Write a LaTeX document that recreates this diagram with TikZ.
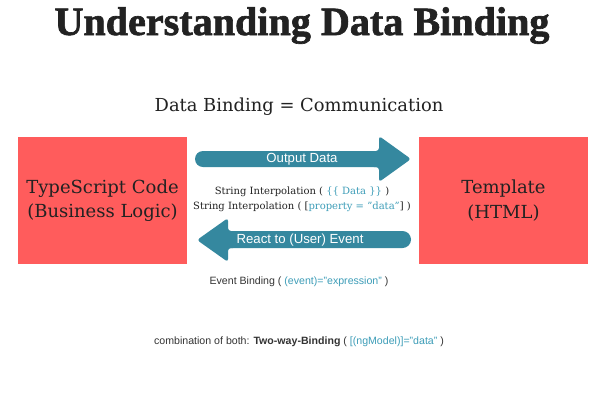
\documentclass[tikz,border=0pt]{standalone}
\usepackage{fontspec}
\setmainfont{DejaVu Serif}
\setsansfont{Liberation Sans}
\newfontfamily\titlefont[BoldFeatures={FakeBold=1.6}]{Liberation Serif}
\definecolor{boxred}{HTML}{FF5C5C}
\definecolor{arrowteal}{HTML}{35889F}
\definecolor{codeteal}{HTML}{3D9DB8}
\definecolor{ink}{HTML}{222222}
\definecolor{grayink}{HTML}{333333}
\tikzset{
  redbox/.style={fill=boxred, draw=none, minimum width=169pt, minimum height=127pt, inner sep=0pt,
    text=ink, align=center, font=\fontsize{18}{24.5}\selectfont},
  bigarrow/.style={fill=arrowteal, draw=none},
  arrowlabel/.style={text=white, font=\sffamily\fontsize{13.2}{14}\selectfont, inner sep=0pt},
  serifnote/.style={text=ink, font=\fontsize{10}{15}\selectfont, inner sep=0pt, align=center},
  sansnote/.style={text=grayink, font=\sffamily\fontsize{10.6}{12}\selectfont, inner sep=0pt},
}
\newcommand{\code}[1]{\textcolor{codeteal}{#1}}
\begin{document}
\begin{tikzpicture}[x=1pt,y=-1pt]
\useasboundingbox (0,0) rectangle (600,400);
\fill[white] (0,0) rectangle (600,400);
% title
\node[anchor=base, inner sep=0pt, text=ink] (title) at (302,35)
  {\resizebox{495pt}{!}{\titlefont\bfseries\fontsize{42}{42}\selectfont Understanding Data Binding}};
% subtitle
\node[anchor=base, inner sep=0pt, text=ink, font=\fontsize{17.9}{20}\selectfont] (subtitle) at (299,111)
  {Data Binding = Communication};
% boxes
\node[redbox] (ts) at (102.5,200.5) {TypeScript Code\\(Business Logic)};
\node[redbox] (tpl) at (503.5,200.5) {Template\\(HTML)};
% top arrow
\fill[bigarrow, rounded corners=8pt] (379,167) -- (195,167) -- (195,151) -- (379,151);
\fill[bigarrow, rounded corners=3pt] (371,151) -- (379,151) -- (379,136) -- (411,159) -- (379,182) -- (379,167) -- (371,167) -- cycle;
\node[arrowlabel] (outlbl) at (302,159) {Output Data};
% bottom arrow
\fill[bigarrow, rounded corners=8.5pt] (228,231) -- (411,231) -- (411,248) -- (228,248);
\fill[bigarrow, rounded corners=3pt] (236,231) -- (228,231) -- (228,218) -- (197,240) -- (228,262) -- (228,248) -- (236,248) -- cycle;
\node[arrowlabel] (reactlbl) at (300,240) {React to (User) Event};
% middle notes
\node[serifnote] (interp) at (302,199.5)
  {String Interpolation ( \code{\{\{ Data \}\}} )\\String Interpolation ( [\code{property = "data"}] )};
\node[sansnote] (event) at (299,282) {Event Binding ( \code{(event)="expression"} )};
\node[sansnote] (twoway) at (299,342) {combination of both: \textbf{Two-way-Binding} ( \code{[(ngModel)]="data"} )};
\end{tikzpicture}
\end{document}
